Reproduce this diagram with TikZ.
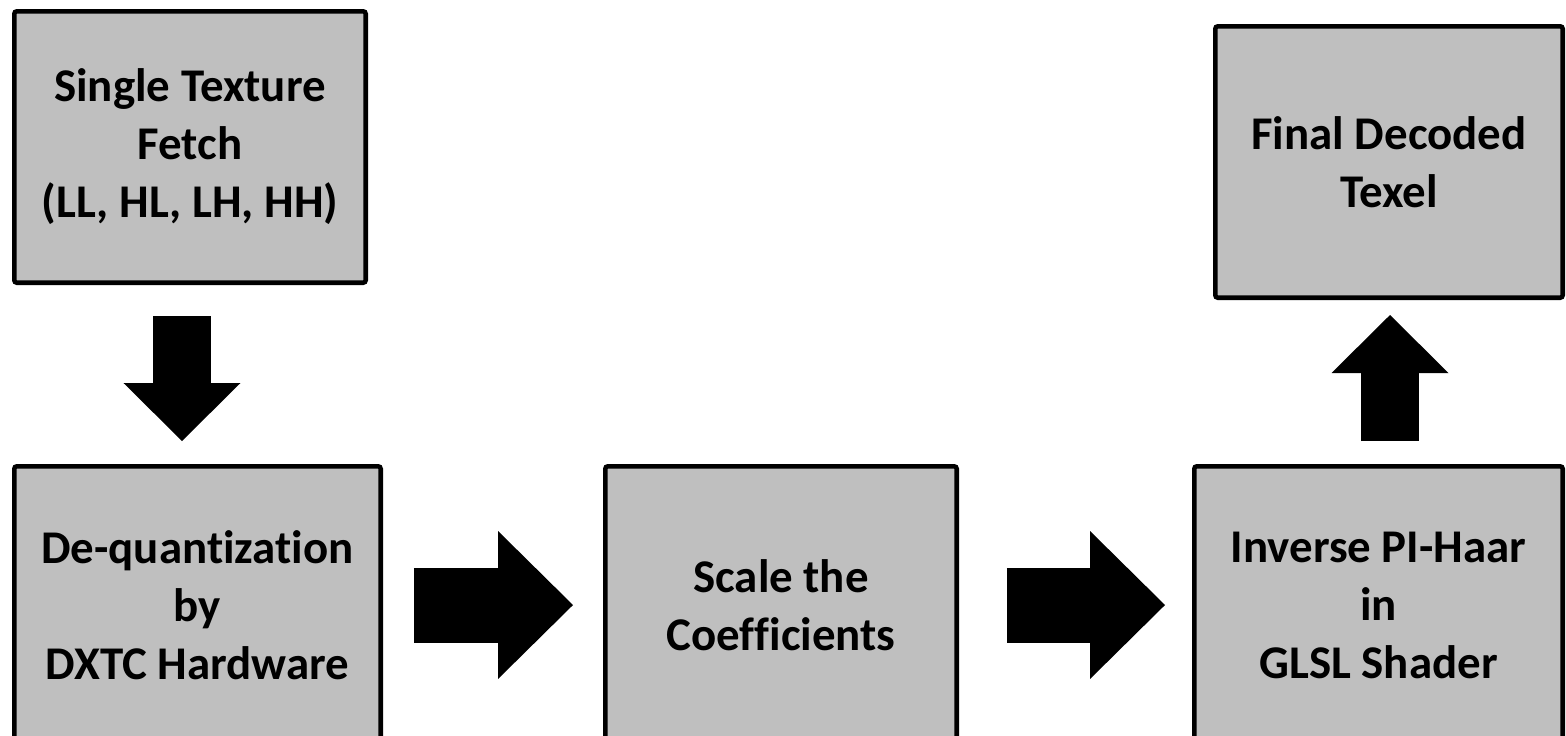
\documentclass[tikz,border=0pt]{standalone}
\usepackage{fontspec}
\setmainfont{Carlito}[Ligatures=NoCommon]
\usetikzlibrary{arrows.meta,calc}
\definecolor{boxgray}{HTML}{BFBFBF}

\begin{document}
\begin{tikzpicture}[
  x=0.02cm, y=-0.02cm,
  font=\fontsize{26.7}{33}\selectfont\bfseries,
  stage/.style={draw=black, line width=2.6pt, fill=boxgray, align=center,
    inner sep=0pt, rounded corners=1.5pt},
  vblock/.style={line width=1.16cm,
    -{Triangle[length=1.16cm,width=2.34cm,line width=0pt]}},
  hblock/.style={line width=1.5cm,
    -{Triangle[length=1.5cm,width=2.96cm,line width=0pt]}}
]
\useasboundingbox (0,0) rectangle (1566,735);

% Stages
\node[stage, minimum width=7.03cm, minimum height=5.43cm] (fetch) at (190,147)
  {Single Texture\\Fetch\\(LL, HL, LH, HH)};
\node[stage, minimum width=7.33cm, minimum height=5.55cm] (dequant) at (197.5,605)
  {De-quantization\\by\\DXTC Hardware};
\node[stage, minimum width=7.03cm, minimum height=5.55cm] (scale) at (781,605)
  {Scale the\\Coefficients};
\node[stage, minimum width=7.37cm, minimum height=5.55cm] (inverse) at (1378.5,605)
  {Inverse PI-Haar\\in\\GLSL Shader};
\node[stage, minimum width=6.95cm, minimum height=5.43cm] (final) at (1389,162)
  {Final Decoded\\Texel};

% Block arrows
\draw[vblock, shorten <=0.62cm, shorten >=0.46cm]
  ($(fetch.south)+(-8,0)$) -- ($(fetch.south |- dequant.north)+(-8,0)$);
\draw[hblock, shorten <=0.62cm, shorten >=0.6cm] (dequant.east) -- (scale.west);
\draw[hblock, shorten <=0.96cm, shorten >=0.54cm] (scale.east) -- (inverse.west);
\draw[vblock, shorten <=0.46cm, shorten >=0.3cm]
  ($(final.south |- inverse.north)+(1,0)$) -- ($(final.south)+(1,0)$);

\end{tikzpicture}
\end{document}
